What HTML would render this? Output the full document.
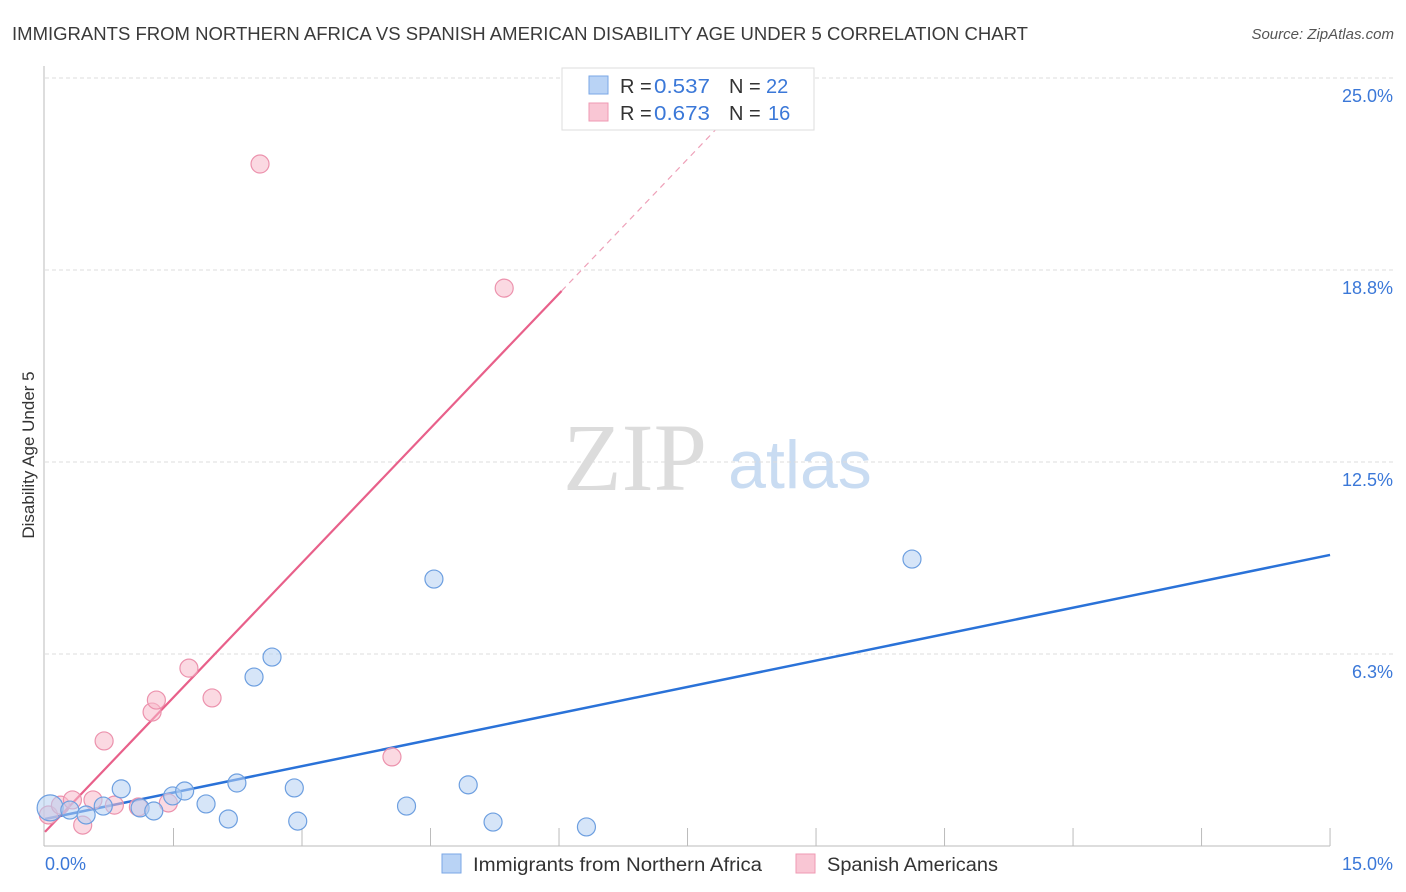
<!DOCTYPE html>
<html><head><meta charset="utf-8"><style>
body{margin:0;background:#fff;font-family:"Liberation Sans",sans-serif;}
svg{display:block}
</style></head><body>
<svg width="1406" height="892" xmlns="http://www.w3.org/2000/svg" id="chart">
<text x="12" y="40" font-size="18.5" fill="#3a3a3a" textLength="1016" lengthAdjust="spacingAndGlyphs">IMMIGRANTS FROM NORTHERN AFRICA VS SPANISH AMERICAN DISABILITY AGE UNDER 5 CORRELATION CHART</text>
<text x="1394" y="39" font-size="15" fill="#555" font-style="italic" text-anchor="end">Source: ZipAtlas.com</text>
<g>
<text x="635" y="490" font-size="96" fill="#dcdcdc" font-family="Liberation Serif,serif" text-anchor="middle">ZIP</text>
<text x="800" y="488" font-size="68" fill="#c9dcf2" text-anchor="middle">atlas</text>
</g>
<g id="grid"></g>
<g id="axes"></g>
<g id="lines"></g>
<g id="points"></g>
<text transform="translate(34,455) rotate(-90)" font-size="17" fill="#333" text-anchor="middle">Disability Age Under 5</text>
<text x="45" y="870" font-size="18" fill="#3b78d8">0.0%</text>
<text x="1393" y="870" font-size="18" fill="#3b78d8" text-anchor="end">15.0%</text>
<g>
<rect x="562" y="68" width="252" height="62" fill="#fff" stroke="#ddd"/>
<rect x="589" y="76" width="19" height="18" fill="#b9d3f5" stroke="#7aa7e6"/>
<rect x="589" y="103" width="19" height="18" fill="#f9c6d4" stroke="#ef9ab3"/>
<text x="620" y="93" font-size="20" fill="#333">R = </text>
<text x="654" y="93" font-size="20" fill="#3b78d8" textLength="56" lengthAdjust="spacingAndGlyphs">0.537</text>
<text x="729" y="93" font-size="20" fill="#333">N = </text>
<text x="766" y="93" font-size="20" fill="#3b78d8">22</text>
<text x="620" y="120" font-size="20" fill="#333">R = </text>
<text x="654" y="120" font-size="20" fill="#3b78d8" textLength="56" lengthAdjust="spacingAndGlyphs">0.673</text>
<text x="729" y="120" font-size="20" fill="#333">N = </text>
<text x="768" y="120" font-size="20" fill="#3b78d8">16</text>
</g>
<g>
<rect x="442" y="854" width="19" height="19" fill="#b9d3f5" stroke="#7aa7e6"/>
<text x="473" y="871" font-size="19" fill="#333" textLength="289" lengthAdjust="spacingAndGlyphs">Immigrants from Northern Africa</text>
<rect x="796" y="854" width="19" height="19" fill="#f9c6d4" stroke="#ef9ab3"/>
<text x="827" y="871" font-size="19" fill="#333" textLength="171" lengthAdjust="spacingAndGlyphs">Spanish Americans</text>
</g>
</svg>
<script>
const blueX=[0.06,0.29,0.48,0.68,0.89,1.11,1.27,1.49,1.63,1.88,2.14,2.24,2.44,2.65,2.91,2.95,4.22,4.54,4.94,5.23,6.32,10.12];
const blueY=[1.24,1.17,1.01,1.30,1.86,1.24,1.14,1.63,1.79,1.37,0.88,2.05,5.50,6.15,1.89,0.81,1.30,8.69,1.99,0.78,0.62,9.34];
const pinkX=[0.04,0.18,0.32,0.44,0.56,0.69,0.81,1.09,1.25,1.30,1.44,1.68,1.95,2.51,4.05,5.36];
const pinkY=[1.01,1.33,1.50,0.68,1.50,3.42,1.33,1.27,4.36,4.75,1.40,5.79,4.82,22.2,2.90,18.16];
const yTicks=[6.25,12.5,18.75,25];
const yTickLabels=["6.3%","12.5%","18.8%","25.0%"];
const blueTrend=[0.88,0.573];
const pinkTrend=[0.46,2.92];
const pinkSolidEnd=6.03, pinkDashEnd=8.0, xMax=15;
const NS="http://www.w3.org/2000/svg";
function sx(v){return 45+v*85.67;}
function sy(v){return 846-v*30.72;}
function mk(tag,attrs,parent){const e=document.createElementNS(NS,tag);for(const k in attrs)e.setAttribute(k,attrs[k]);document.getElementById(parent).appendChild(e);return e;}
yTicks.forEach((t,i)=>{
 const l=mk('line',{x1:45,x2:1393,y1:sy(t),y2:sy(t),stroke:'#ddd','stroke-dasharray':'4,3'},'grid');
 
 
 const tx=mk('text',{x:1393,y:sy(t)+24,'font-size':18,fill:'#3b78d8','text-anchor':'end'},'grid');
 tx.textContent=yTickLabels[i];
 
 
});
const ax=mk('line',{x1:44,x2:44,y1:66,y2:846,stroke:'#bbb'},'axes');


const bx=mk('line',{x1:44,x2:1330,y1:846,y2:846,stroke:'#bbb'},'axes');


for(let i=1;i<=10;i++){
 const t=mk('line',{x1:sx(i*1.5),x2:sx(i*1.5),y1:828,y2:846,stroke:'#bbb'},'axes');
 
 
}
function drawPts(xs,ys,fill,stroke,name){
 xs.forEach((x,i)=>{
  const r=(name==='point-northern-africa'&&i===0)?13:9;
  const c=mk('circle',{cx:sx(x),cy:sy(ys[i]),r:r,fill:fill,'fill-opacity':0.55,stroke:stroke,'stroke-width':1.2},'points');
  
  
 });
}
drawPts(pinkX,pinkY,'#f7b9cb','#ec92ad','point-spanish-americans');
drawPts(blueX,blueY,'#b4d0f3','#6d9fe0','point-northern-africa');
const bl=mk('line',{x1:sx(0),y1:sy(blueTrend[0]),x2:sx(xMax),y2:sy(blueTrend[0]+blueTrend[1]*xMax),stroke:'#2a72d8','stroke-width':2.5},'lines');


const pl=mk('line',{x1:sx(0),y1:sy(pinkTrend[0]),x2:sx(pinkSolidEnd),y2:sy(pinkTrend[0]+pinkTrend[1]*pinkSolidEnd),stroke:'#e8608a','stroke-width':2.2},'lines');


const pd=mk('line',{x1:sx(pinkSolidEnd),y1:sy(pinkTrend[0]+pinkTrend[1]*pinkSolidEnd),x2:sx(pinkDashEnd),y2:sy(pinkTrend[0]+pinkTrend[1]*pinkDashEnd),stroke:'#eea0b8','stroke-width':1.2,'stroke-dasharray':'6,5'},'lines');


</script>
</body></html>
